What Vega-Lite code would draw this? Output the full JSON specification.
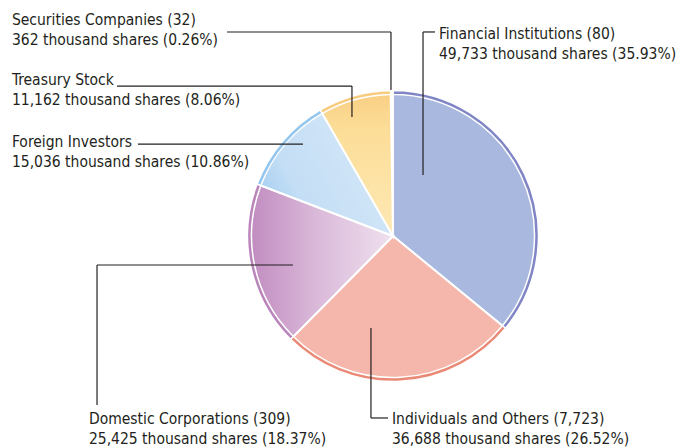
{
  "$schema": "https://vega.github.io/schema/vega-lite/v6.json",
  "width": 576,
  "height": 424,
  "autosize": {"type": "none"},
  "padding": {"left": 105, "top": 24, "right": 0, "bottom": 0},
  "background": "white",
  "config": {"view": {"stroke": null}},
  "datasets": {
    "slices": [
      {"idx": 1, "category": "Financial Institutions", "shares": 49733},
      {"idx": 2, "category": "Individuals and Others", "shares": 36688},
      {"idx": 3, "category": "Domestic Corporations", "shares": 25425},
      {"idx": 4, "category": "Foreign Investors", "shares": 15036},
      {"idx": 5, "category": "Treasury Stock", "shares": 11162},
      {"idx": 6, "category": "Securities Companies", "shares": 362}
    ],
    "labels": [
      {"x": -2.628, "y": 1.455, "label": "Securities Companies (32)\n362 thousand shares (0.26%)"},
      {"x": -2.628, "y": 1.041, "label": "Treasury Stock\n11,162 thousand shares (8.06%)"},
      {"x": -2.628, "y": 0.614, "label": "Foreign Investors\n15,036 thousand shares (10.86%)"},
      {"x": 0.317, "y": 1.359, "label": "Financial Institutions (80)\n49,733 thousand shares (35.93%)"},
      {"x": -2.097, "y": -1.297, "label": "Domestic Corporations (309)\n25,425 thousand shares (18.37%)"},
      {"x": -0.007, "y": -1.297, "label": "Individuals and Others (7,723)\n36,688 thousand shares (26.52%)"}
    ],
    "leaders": [
      {"x": 0.290, "y": 1.407, "x2": 0.207, "y2": 1.407},
      {"x": 0.207, "y": 1.407, "x2": 0.207, "y2": 0.421},
      {"x": -1.145, "y": 1.407, "x2": -0.014, "y2": 1.407},
      {"x": -0.014, "y": 1.407, "x2": -0.014, "y2": 1.007},
      {"x": -1.903, "y": 1.034, "x2": -0.283, "y2": 1.034},
      {"x": -0.283, "y": 1.034, "x2": -0.283, "y2": 0.821},
      {"x": -1.759, "y": 0.634, "x2": -0.621, "y2": 0.634},
      {"x": -0.690, "y": -0.200, "x2": -2.041, "y2": -0.200},
      {"x": -2.041, "y": -0.200, "x2": -2.041, "y2": -1.166},
      {"x": -0.152, "y": -0.634, "x2": -0.152, "y2": -1.255},
      {"x": -0.152, "y": -1.255, "x2": -0.034, "y2": -1.255}
    ]
  },
  "layer": [
    {
      "data": {"name": "slices"},
      "mark": {"type": "arc", "radius": 145, "stroke": "white", "strokeWidth": 2},
      "encoding": {
        "theta": {"field": "shares", "type": "quantitative", "stack": true},
        "order": {"field": "idx", "type": "quantitative"},
        "color": {
          "field": "category", "type": "nominal", "legend": null,
          "scale": {
            "domain": ["Financial Institutions", "Individuals and Others", "Domestic Corporations", "Foreign Investors", "Treasury Stock", "Securities Companies"],
            "range": ["#a8b8de", "#f5b6ac", "#d6b2d5", "#c9e0f5", "#fde29f", "#ffffff"]
          }
        }
      }
    },
    {
      "data": {"name": "slices"},
      "mark": {
        "type": "arc", "radius": 145, "stroke": "white", "strokeWidth": 2,
        "fill": {"gradient": "linear", "x1": 0, "y1": 0.5, "x2": 1, "y2": 0.5, "stops": [{"offset": 0, "color": "#c08abf"}, {"offset": 0.45, "color": "#d9b7d8"}, {"offset": 1, "color": "#efe1ef"}]}
      },
      "encoding": {
        "theta": {"field": "shares", "type": "quantitative", "stack": true},
        "order": {"field": "idx", "type": "quantitative"},
        "opacity": {"condition": {"test": "datum.category === 'Domestic Corporations'", "value": 1}, "value": 0}
      }
    },
    {
      "data": {"name": "slices"},
      "mark": {
        "type": "arc", "radius": 145, "stroke": "white", "strokeWidth": 2,
        "fill": {"gradient": "linear", "x1": 0, "y1": 0.8, "x2": 1, "y2": 0.3, "stops": [{"offset": 0, "color": "#9ccaf0"}, {"offset": 0.3, "color": "#c4def5"}, {"offset": 1, "color": "#d6e8f8"}]}
      },
      "encoding": {
        "theta": {"field": "shares", "type": "quantitative", "stack": true},
        "order": {"field": "idx", "type": "quantitative"},
        "opacity": {"condition": {"test": "datum.category === 'Foreign Investors'", "value": 1}, "value": 0}
      }
    },
    {
      "data": {"name": "slices"},
      "mark": {
        "type": "arc", "radius": 145, "stroke": "white", "strokeWidth": 2,
        "fill": {"gradient": "linear", "x1": 0.5, "y1": 0, "x2": 0.5, "y2": 1, "stops": [{"offset": 0, "color": "#f9cd82"}, {"offset": 0.25, "color": "#fcdd97"}, {"offset": 1, "color": "#fde8b4"}]}
      },
      "encoding": {
        "theta": {"field": "shares", "type": "quantitative", "stack": true},
        "order": {"field": "idx", "type": "quantitative"},
        "opacity": {"condition": {"test": "datum.category === 'Treasury Stock'", "value": 1}, "value": 0}
      }
    },
    {
      "data": {"name": "slices"},
      "mark": {"type": "arc", "radius": 145.5, "radius2": 141.5, "stroke": "white", "strokeWidth": 1.5},
      "encoding": {
        "theta": {"field": "shares", "type": "quantitative", "stack": true},
        "order": {"field": "idx", "type": "quantitative"},
        "fill": {
          "field": "category", "type": "nominal", "legend": null,
          "scale": {
            "domain": ["Financial Institutions", "Individuals and Others", "Domestic Corporations", "Foreign Investors", "Treasury Stock", "Securities Companies"],
            "range": ["#8085c6", "#ea8a76", "#b985bb", "#94c6ee", "#f8cc7e", "#ffffff"]
          }
        }
      }
    },
    {
      "data": {"name": "leaders"},
      "mark": {"type": "rule", "color": "#231f20", "strokeWidth": 1.2},
      "encoding": {
        "x": {"field": "x", "type": "quantitative", "scale": {"domain": [-1.986, 1.986], "nice": false, "zero": false}, "axis": null},
        "y": {"field": "y", "type": "quantitative", "scale": {"domain": [-1.462, 1.462], "nice": false, "zero": false}, "axis": null},
        "x2": {"field": "x2"},
        "y2": {"field": "y2"}
      }
    },
    {
      "data": {"name": "labels"},
      "mark": {"type": "text", "align": "left", "baseline": "alphabetic", "lineBreak": "\n", "lineHeight": 20, "fontSize": 15.5, "font": "DejaVu Sans Condensed, DejaVu Sans, sans-serif", "color": "#231f20"},
      "encoding": {
        "x": {"field": "x", "type": "quantitative", "axis": null},
        "y": {"field": "y", "type": "quantitative", "axis": null},
        "text": {"field": "label", "type": "nominal"}
      }
    }
  ]
}
